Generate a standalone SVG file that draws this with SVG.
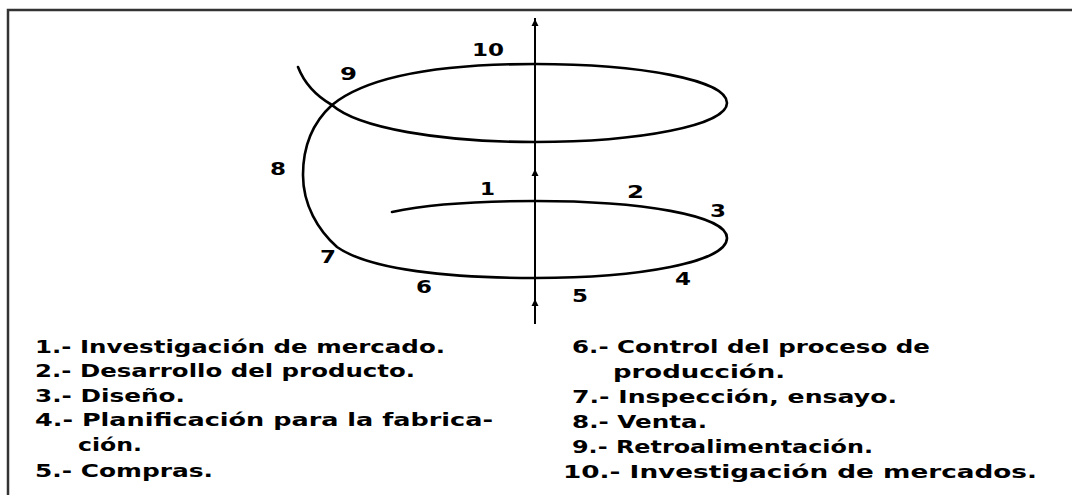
<svg xmlns="http://www.w3.org/2000/svg" width="1072" height="495" viewBox="0 0 1072 495">
<style>
.lbl{font-family:"DejaVu Sans",Verdana,sans-serif;font-weight:bold;font-size:17.5px;fill:#000}
.curve{fill:none;stroke:#000;stroke-width:2.6;stroke-linejoin:round;stroke-linecap:round}
.axis{stroke:#000;stroke-width:2}
</style>
<rect x="0" y="0" width="1072" height="495" fill="#fff"/>
<rect x="8" y="10" width="1090" height="510" fill="none" stroke="#333" stroke-width="2.5"/>
<g id="connectors">
<line class="axis" x1="535" y1="324" x2="535" y2="18"/>
<path d="M535,19 l-3.5,7 h7 Z" fill="#000"/>
<path d="M535,169 l-3.5,7 h7 Z" fill="#000"/>
<path d="M535,299 l-3.5,7 h7 Z" fill="#000"/>
<path class="curve" d="M298,67 C305,85 318,97 332,105 C358,128 440,142 535,142 C640,142 727,125 727,103 C727,80 640,64 535,64 C430,64 365,78 332,105 C310,125 303,150 303,175 C303,205 318,230 337,247 C370,270 450,278 535,278 C640,278 727,262 727,238 C727,215 640,201 535,201 C470,201 420,206 392,212"/>
</g>
<g id="n10"><text class="lbl" x="472" y="56" textLength="32" lengthAdjust="spacingAndGlyphs">10</text></g>
<g id="n9"><text class="lbl" x="340" y="80" textLength="17" lengthAdjust="spacingAndGlyphs">9</text></g>
<g id="n8"><text class="lbl" x="270" y="175" textLength="16" lengthAdjust="spacingAndGlyphs">8</text></g>
<g id="n7"><text class="lbl" x="320" y="263" textLength="16" lengthAdjust="spacingAndGlyphs">7</text></g>
<g id="n1"><text class="lbl" x="480" y="195" textLength="15" lengthAdjust="spacingAndGlyphs">1</text></g>
<g id="n2"><text class="lbl" x="627" y="198" textLength="17" lengthAdjust="spacingAndGlyphs">2</text></g>
<g id="n3"><text class="lbl" x="710" y="217" textLength="16" lengthAdjust="spacingAndGlyphs">3</text></g>
<g id="n4"><text class="lbl" x="675" y="285" textLength="16" lengthAdjust="spacingAndGlyphs">4</text></g>
<g id="n5"><text class="lbl" x="572" y="302" textLength="16" lengthAdjust="spacingAndGlyphs">5</text></g>
<g id="n6"><text class="lbl" x="416" y="293" textLength="16" lengthAdjust="spacingAndGlyphs">6</text></g>
<g id="legend">
<text class="lbl" x="35" y="353" textLength="410" lengthAdjust="spacingAndGlyphs">1.- Investigación de mercado.</text>
<text class="lbl" x="35" y="377" textLength="380" lengthAdjust="spacingAndGlyphs">2.- Desarrollo del producto.</text>
<text class="lbl" x="35" y="402" textLength="150" lengthAdjust="spacingAndGlyphs">3.- Diseño.</text>
<text class="lbl" x="35" y="426" textLength="458" lengthAdjust="spacingAndGlyphs">4.- Planificación para la fabrica-</text>
<text class="lbl" x="78" y="451" textLength="64" lengthAdjust="spacingAndGlyphs">ción.</text>
<text class="lbl" x="35" y="477" textLength="178" lengthAdjust="spacingAndGlyphs">5.- Compras.</text>
<text class="lbl" x="572" y="353" textLength="358" lengthAdjust="spacingAndGlyphs">6.- Control del proceso de</text>
<text class="lbl" x="613" y="378" textLength="172" lengthAdjust="spacingAndGlyphs">producción.</text>
<text class="lbl" x="572" y="403" textLength="325" lengthAdjust="spacingAndGlyphs">7.- Inspección, ensayo.</text>
<text class="lbl" x="572" y="428" textLength="135" lengthAdjust="spacingAndGlyphs">8.- Venta.</text>
<text class="lbl" x="572" y="453" textLength="301" lengthAdjust="spacingAndGlyphs">9.- Retroalimentación.</text>
<text class="lbl" x="563" y="478" textLength="474" lengthAdjust="spacingAndGlyphs">10.- Investigación de mercados.</text>
</g>
</svg>
